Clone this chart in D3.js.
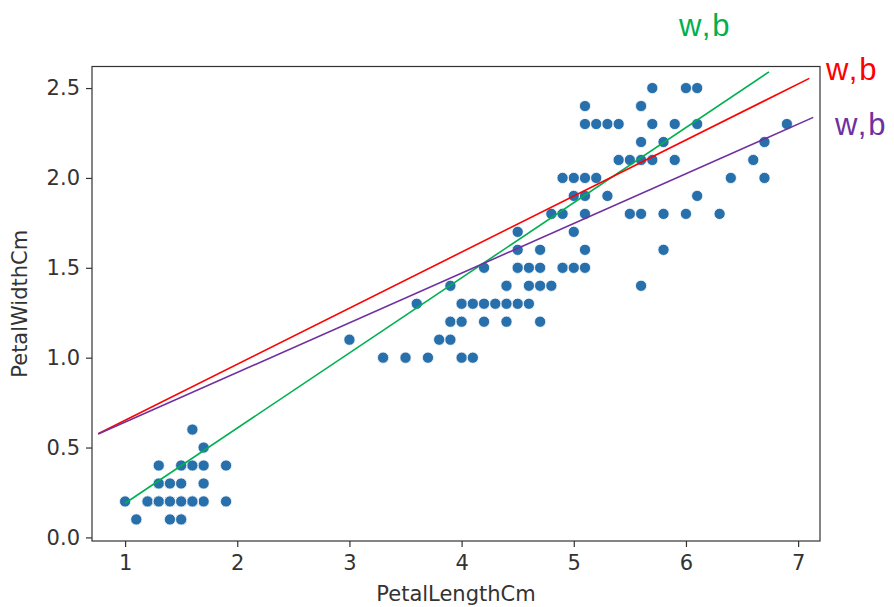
<!DOCTYPE html>
<html>
<head>
<meta charset="utf-8">
<script src="https://cdn.jsdelivr.net/npm/d3@7"></script>
<style>
  body { margin: 0; background: #fff; }
  svg text { font-family: "DejaVu Sans", sans-serif; }
</style>
</head>
<body>
<div id="chart"></div>
<script>
const petalLength = [
  1.4,1.4,1.3,1.5,1.4,1.7,1.4,1.5,1.4,1.5,1.5,1.6,1.4,1.1,1.2,1.5,1.3,1.4,1.7,1.5,
  1.7,1.5,1.0,1.7,1.9,1.6,1.6,1.5,1.4,1.6,1.6,1.5,1.5,1.4,1.5,1.2,1.3,1.5,1.3,1.5,
  1.3,1.3,1.3,1.6,1.9,1.4,1.6,1.4,1.5,1.4,
  4.7,4.5,4.9,4.0,4.6,4.5,4.7,3.3,4.6,3.9,3.5,4.2,4.0,4.7,3.6,4.4,4.5,4.1,4.5,3.9,
  4.8,4.0,4.9,4.7,4.3,4.4,4.8,5.0,4.5,3.5,3.8,3.7,3.9,5.1,4.5,4.5,4.7,4.4,4.1,4.0,
  4.4,4.6,4.0,3.3,4.2,4.2,4.2,4.3,3.0,4.1,
  6.0,5.1,5.9,5.6,5.8,6.6,4.5,6.3,5.8,6.1,5.1,5.3,5.5,5.0,5.1,5.3,5.5,6.7,6.9,5.0,
  5.7,4.9,6.7,4.9,5.7,6.0,4.8,4.9,5.6,5.8,6.1,6.4,5.6,5.1,5.6,6.1,5.6,5.5,4.8,5.4,
  5.6,5.1,5.1,5.9,5.7,5.2,5.0,5.2,5.4,5.1
];
const petalWidth = [
  0.2,0.2,0.2,0.2,0.2,0.4,0.3,0.2,0.2,0.1,0.2,0.2,0.1,0.1,0.2,0.4,0.4,0.3,0.3,0.3,
  0.2,0.4,0.2,0.5,0.2,0.2,0.4,0.2,0.2,0.2,0.2,0.4,0.1,0.2,0.1,0.2,0.2,0.1,0.2,0.2,
  0.3,0.3,0.2,0.6,0.4,0.3,0.2,0.2,0.2,0.2,
  1.4,1.5,1.5,1.3,1.5,1.3,1.6,1.0,1.3,1.4,1.0,1.5,1.0,1.4,1.3,1.4,1.5,1.0,1.5,1.1,
  1.8,1.3,1.5,1.2,1.3,1.4,1.4,1.7,1.5,1.0,1.1,1.0,1.2,1.6,1.5,1.6,1.5,1.3,1.3,1.3,
  1.2,1.4,1.2,1.0,1.3,1.2,1.3,1.3,1.1,1.3,
  2.5,1.9,2.1,1.8,2.2,2.1,1.7,1.8,1.8,2.5,2.0,1.9,2.1,2.0,2.4,2.3,1.8,2.2,2.3,1.5,
  2.3,2.0,2.0,1.8,2.1,1.8,1.8,1.8,2.1,1.6,1.9,2.0,2.2,1.5,1.4,2.3,2.4,1.8,1.8,2.1,
  2.4,2.3,1.9,2.3,2.5,2.3,1.9,2.0,2.3,1.8
];

// fitted lines (start / end in data units)
const lineNames = ["green", "red", "purple"];
const lineX0 = [1.0, 0.76, 0.76];
const lineY0 = [0.19, 0.577, 0.575];
const lineX1 = [6.74, 7.10, 7.135];
const lineY1 = [2.59, 2.554, 2.337];
const lineColors = { green: "#00b050", red: "#ff0000", purple: "#7030a0" };

const xTicks = [1, 2, 3, 4, 5, 6, 7];
const yTicks = [0.0, 0.5, 1.0, 1.5, 2.0, 2.5];

const W = 894, H = 607;
const margin = { top: 66.5, right: 74, bottom: 66, left: 92 };
const width = W - margin.left - margin.right;
const height = H - margin.top - margin.bottom;

const svg = d3.select("#chart").append("svg")
    .attr("width", W)
    .attr("height", H);

const g = svg.append("g")
    .attr("transform", `translate(${margin.left},${margin.top})`);

// 5% padding like matplotlib
const xMin = d3.min(petalLength), xMax = d3.max(petalLength);
const yMin = d3.min(petalWidth), yMax = d3.max(petalWidth);
const xPad = (xMax - xMin) * 0.05, yPad = (yMax - yMin) * 0.05;

const x = d3.scaleLinear().domain([xMin - xPad, xMax + xPad]).range([0, width]);
const y = d3.scaleLinear().domain([yMin - yPad, yMax + yPad]).range([height, 0]);

// axes
const xAxis = g.append("g")
    .attr("transform", `translate(0,${height})`)
    .call(d3.axisBottom(x).tickValues(xTicks).tickFormat(d3.format("d")).tickSize(6).tickPadding(5));
const yAxis = g.append("g")
    .call(d3.axisLeft(y).tickValues(yTicks).tickFormat(d3.format(".1f")).tickSize(6).tickPadding(6));

[xAxis, yAxis].forEach(ax => {
  ax.select(".domain").remove();
  ax.selectAll("line").attr("stroke", "#333").attr("stroke-width", 1.2);
  ax.selectAll("text").attr("fill", "#333").style("font-size", "21px");
});
xAxis.selectAll("text").attr("dy", "0.85em");

// points
g.append("g")
  .selectAll("circle")
  .data(petalLength.map((d, i) => ({ l: d, w: petalWidth[i] })))
  .enter()
  .append("circle")
    .attr("cx", d => x(d.l))
    .attr("cy", d => y(d.w))
    .attr("r", 5.6)
    .attr("fill", "#2870ab")
    .attr("stroke", "#fff")
    .attr("stroke-width", 0.8);

// fitted lines
lineNames.forEach((name, i) => {
  g.append("line")
    .attr("x1", x(lineX0[i])).attr("y1", y(lineY0[i]))
    .attr("x2", x(lineX1[i])).attr("y2", y(lineY1[i]))
    .attr("stroke", lineColors[name])
    .attr("stroke-width", 1.6);
});

// frame
g.append("rect")
    .attr("width", width).attr("height", height)
    .attr("fill", "none")
    .attr("stroke", "#333")
    .attr("stroke-width", 1.2);

// axis labels
svg.append("text")
    .attr("x", margin.left + width / 2)
    .attr("y", 601)
    .attr("text-anchor", "middle")
    .attr("fill", "#333")
    .style("font-size", "21px")
    .text("PetalLengthCm");

svg.append("text")
    .attr("transform", `translate(27,${margin.top + height / 2}) rotate(-90)`)
    .attr("text-anchor", "middle")
    .attr("fill", "#333")
    .style("font-size", "21px")
    .text("PetalWidthCm");

// w,b annotations
const noteX = [679, 826, 835];
const noteY = [36, 80, 135];
lineNames.forEach((name, i) => {
  svg.append("text")
    .attr("x", noteX[i]).attr("y", noteY[i])
    .attr("fill", lineColors[name])
    .style("font-family", "'Liberation Sans', Arial, sans-serif")
    .style("font-size", "31px")
    .style("letter-spacing", "2px")
    .text("w,b");
});
</script>
</body>
</html>
